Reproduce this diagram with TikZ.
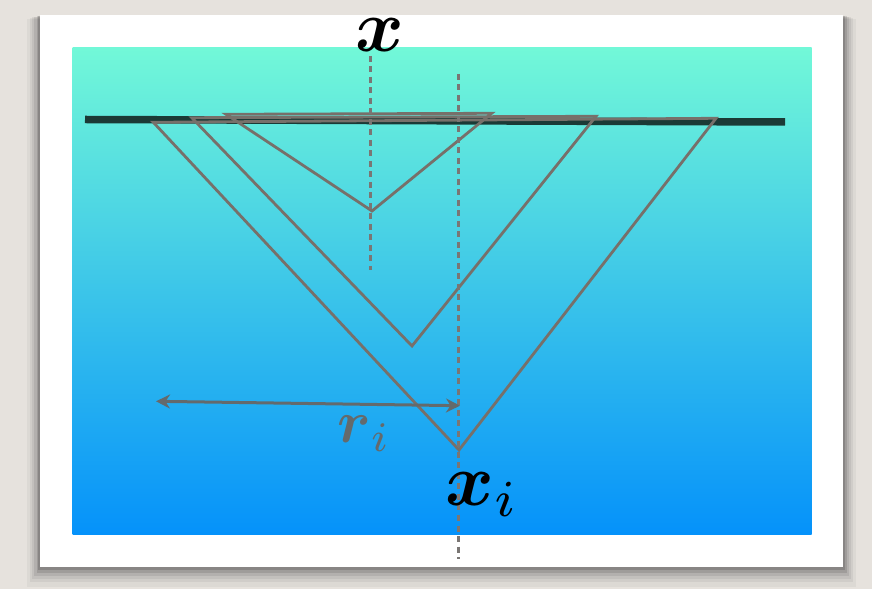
\documentclass[tikz,border=0pt]{standalone}
\usepackage{amsmath}
\usetikzlibrary{arrows.meta}
\definecolor{paper}{HTML}{E6E2DD}
\definecolor{gradtop}{HTML}{72F8D8}
\definecolor{gradbot}{HTML}{0592FA}
\definecolor{barcol}{HTML}{1B3A36}
\definecolor{tricol}{HTML}{77706A}
\definecolor{dashcol}{HTML}{7A7674}
\definecolor{arrcol}{HTML}{646A6C}
\tikzset{
  tri/.style={draw=tricol, line width=2.8pt, line join=miter},
  guide/.style={draw=dashcol, line width=3pt, dash pattern=on 6pt off 4.5pt},
  radius arrow/.style={draw=arrcol, line width=3pt, {Stealth[length=14pt,width=14pt]}-{Stealth[length=14pt,width=14pt]}},
  bigmath/.style={inner sep=0pt, scale=7.4},
  midmath/.style={inner sep=0pt, text=arrcol, scale=6},
}
\begin{document}
\begin{tikzpicture}[x=1pt,y=1pt]
\useasboundingbox (0,0) rectangle (872,589);
\fill[paper] (0,0) rectangle (872,589);
% card shadow
\foreach \d/\o in {18/0.04,14/0.05,11/0.06,8/0.08,5/0.11,3/0.14}{
  \fill[black,opacity=\o] (40-\d*0.7,22-\d*1.1) rectangle (843+\d*0.7,574-\d*0.2);
}
% card
\fill[white] (40,22) rectangle (843,574);
% gradient panel
\shade[top color=gradtop, bottom color=gradbot] (72.7,55) rectangle (811.7,541);
% horizontal bar
\coordinate (barL) at (85,469.5);
\coordinate (barR) at (785,467);
\draw[barcol, line width=7.5pt] (barL) -- (barR);
% triangles
\coordinate (s1) at (226,474.7);
\coordinate (s2) at (491.7,475.7);
\coordinate (s3) at (372,378);
\coordinate (m1) at (191.7,471.3);
\coordinate (m2) at (596,472.7);
\coordinate (m3) at (412,243);
\coordinate (l1) at (153.3,466.7);
\coordinate (l2) at (716,470.7);
\coordinate (l3) at (459,139);
\draw[tri] (s1) -- (s2) -- (s3) -- cycle;
\draw[tri] (m1) -- (m2) -- (m3) -- cycle;
\draw[tri] (l1) -- (l2) -- (l3) -- cycle;
% guides
\coordinate (g1t) at (370,533);
\coordinate (g1b) at (370,319);
\coordinate (g2t) at (458.7,515);
\coordinate (g2b) at (458.7,30);
\draw[guide] (g1t) -- (g1b);
\draw[guide] (g2t) -- (g2b);
% radius arrow
\coordinate (ra) at (156,187.7);
\coordinate (rb) at (460,183.3);
\draw[radius arrow] (ra) -- (rb);
% labels
\node[bigmath] (xlab) at (380,554) {$\boldsymbol{x}$};
\node[bigmath] (xilab) at (482,94) {$\boldsymbol{x}_i$};
\node[midmath] (rilab) at (364,155) {$\boldsymbol{r}_i$};
\end{tikzpicture}
\end{document}
